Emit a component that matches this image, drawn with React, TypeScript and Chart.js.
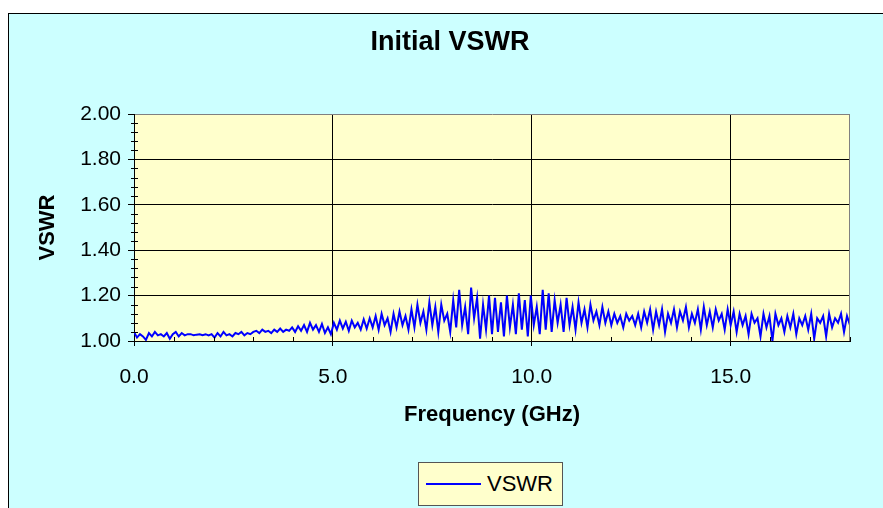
import React, { useEffect, useRef } from "react";
import { Chart, registerables } from "chart.js";

Chart.register(...registerables);

const TITLE = "Initial VSWR";
const X_TITLE = "Frequency (GHz)";
const Y_TITLE = "VSWR";
const SERIES_NAME = "VSWR";

const FREQ_START_GHZ = 0;
const FREQ_STEP_GHZ = 0.075;

const X_MIN = 0;
const X_MAX = 18;
const X_MAJOR = 5;
const X_MINOR = 1;
const Y_MIN = 1;
const Y_MAX = 2;
const Y_MAJOR = 0.2;
const Y_MINOR = 0.04;

// VSWR readings, 0.075 GHz apart
const VSWR_00_03 = [
  1.04, 1.015, 1.03, 1.02, 1.005, 1.035, 1.02, 1.04, 1.025, 1.03,
  1.02, 1.035, 1.01, 1.03, 1.04, 1.02, 1.035, 1.025, 1.03, 1.03,
  1.025, 1.028, 1.03, 1.026, 1.03, 1.025, 1.03, 1.015, 1.035, 1.02,
  1.04, 1.025, 1.03, 1.02, 1.035, 1.03, 1.04, 1.025, 1.035, 1.03,
];
const VSWR_03_06 = [
  1.04, 1.045, 1.035, 1.05, 1.04, 1.045, 1.035, 1.05, 1.04, 1.055,
  1.04, 1.05, 1.045, 1.06, 1.04, 1.065, 1.045, 1.07, 1.04, 1.08,
  1.05, 1.07, 1.04, 1.075, 1.035, 1.06, 1.03, 1.08, 1.05, 1.09,
  1.055, 1.085, 1.045, 1.09, 1.06, 1.08, 1.05, 1.095, 1.055, 1.1,
];
const VSWR_06_09 = [
  1.06, 1.11, 1.05, 1.12, 1.07, 1.1, 1.04, 1.12, 1.06, 1.13,
  1.07, 1.11, 1.05, 1.14, 1.06, 1.16, 1.08, 1.13, 1.05, 1.17,
  1.07, 1.15, 1.04, 1.16, 1.09, 1.12, 1.04, 1.18, 1.06, 1.225,
  1.07, 1.15, 1.03, 1.235, 1.1, 1.19, 1.01, 1.16, 1.05, 1.2,
];
const VSWR_09_12 = [
  1.03, 1.19, 1.04, 1.17, 1.02, 1.2, 1.06, 1.16, 1.03, 1.21,
  1.05, 1.18, 1.02, 1.2, 1.07, 1.15, 1.03, 1.225, 1.05, 1.21,
  1.04, 1.18, 1.08, 1.16, 1.04, 1.19, 1.07, 1.15, 1.05, 1.17,
  1.08, 1.14, 1.06, 1.16, 1.09, 1.13, 1.07, 1.15, 1.08, 1.13,
];
const VSWR_12_15 = [
  1.07, 1.12, 1.08, 1.11, 1.06, 1.12, 1.09, 1.11, 1.07, 1.12,
  1.06, 1.13, 1.08, 1.14, 1.05, 1.13, 1.07, 1.14, 1.04, 1.12,
  1.08, 1.14, 1.06, 1.13, 1.09, 1.15, 1.06, 1.12, 1.08, 1.14,
  1.05, 1.15, 1.07, 1.13, 1.06, 1.14, 1.09, 1.12, 1.05, 1.14,
];
const VSWR_15_18 = [
  1.07, 1.13, 1.04, 1.12, 1.07, 1.11, 1.03, 1.12, 1.08, 1.1,
  1.02, 1.12, 1.06, 1.11, 1.0, 1.12, 1.07, 1.1, 1.04, 1.11,
  1.06, 1.12, 1.03, 1.1, 1.07, 1.11, 1.05, 1.12, 1.01, 1.1,
  1.08, 1.11, 1.02, 1.12, 1.06, 1.1, 1.08, 1.12, 1.04, 1.11,
  1.07,
];

const VSWR = [...VSWR_00_03, ...VSWR_03_06, ...VSWR_06_09, ...VSWR_09_12, ...VSWR_12_15, ...VSWR_15_18];
const FREQ = VSWR.map((_, i) => FREQ_START_GHZ + i * FREQ_STEP_GHZ);

const FONT = "'Liberation Sans', Arial, sans-serif";
const BG = "#CCFFFF";
const PLOT_BG = "#FFFFCC";
const LINE = "#0000FF";

const isMultiple = (v: number, step: number, base = 0) => {
  const r = (v - base) / step;
  return Math.abs(r - Math.round(r)) < 1e-6;
};

const plotDecor = {
  id: "plotDecor",
  beforeDraw(chart: any) {
    const { ctx, chartArea: a } = chart;
    ctx.save();
    ctx.fillStyle = PLOT_BG;
    ctx.fillRect(a.left, a.top, a.right - a.left, a.bottom - a.top);
    ctx.restore();
  },
  afterDraw(chart: any) {
    const { ctx, chartArea: a, scales } = chart;
    ctx.save();
    ctx.strokeStyle = "#000";
    ctx.lineWidth = 1;
    ctx.beginPath();
    for (const t of scales.x.ticks) {
      if (isMultiple(t.value, X_MAJOR)) continue;
      const px = Math.round(scales.x.getPixelForValue(t.value)) + 0.5;
      ctx.moveTo(px, a.bottom - 4);
      ctx.lineTo(px, a.bottom);
    }
    for (const t of scales.y.ticks) {
      if (isMultiple(t.value, Y_MAJOR, Y_MIN)) continue;
      const py = Math.round(scales.y.getPixelForValue(t.value)) + 0.5;
      ctx.moveTo(a.left - 3, py);
      ctx.lineTo(a.left + 4, py);
    }
    ctx.stroke();
    // gray right edge of plot
    ctx.strokeStyle = "#808080";
    ctx.beginPath();
    ctx.moveTo(Math.round(a.right) - 0.5, a.top);
    ctx.lineTo(Math.round(a.right) - 0.5, a.bottom);
    ctx.stroke();
    ctx.restore();
  },
};

export default function App() {
  const ref = useRef<HTMLCanvasElement | null>(null);

  useEffect(() => {
    if (!ref.current) return;
    const chart = new Chart(ref.current, {
      type: "line",
      data: {
        datasets: [
          {
            label: SERIES_NAME,
            data: FREQ.map((f, i) => ({ x: f, y: VSWR[i] })),
            borderColor: LINE,
            borderWidth: 2,
            pointRadius: 0,
            tension: 0,
            fill: false,
            yAxisID: "y",
          },
        ],
      },
      options: {
        animation: false,
        responsive: false,
        devicePixelRatio: 1,
        layout: { padding: { left: 0, right: 0, top: 0, bottom: 80 } },
        plugins: {
          legend: { display: false },
          tooltip: { enabled: false },
          title: {
            display: true,
            text: TITLE,
            color: "#000",
            font: { family: FONT, size: 27, weight: "bold", lineHeight: 1.2 },
            padding: { top: 13, bottom: 55.6 },
          },
        },
        scales: {
          x: {
            type: "linear",
            min: X_MIN,
            max: X_MAX,
            ticks: {
              stepSize: X_MINOR,
              maxTicksLimit: 100,
              autoSkip: false,
              maxRotation: 0,
              padding: 19,
              color: "#000",
              font: { family: FONT, size: 21, lineHeight: 1.2 },
              callback: (v: any) => (isMultiple(Number(v), X_MAJOR) ? Number(v).toFixed(1) : ""),
            },
            grid: {
              lineWidth: 1,
              color: (c: any) => {
                const v = c.tick ? c.tick.value : 0;
                if (!isMultiple(v, X_MAJOR)) return "rgba(0,0,0,0)";
                return "#000";
              },
              drawTicks: true,
              tickLength: 5,
              tickColor: (c: any) => {
                const v = c.tick ? c.tick.value : 0;
                return isMultiple(v, X_MAJOR) ? "#000" : "rgba(0,0,0,0)";
              },
            },
            border: { display: true, color: "#000", width: 1 },
            title: {
              display: true,
              text: X_TITLE,
              color: "#000",
              font: { family: FONT, size: 22, weight: "bold", lineHeight: 1.2 },
              padding: { top: 0, bottom: 0 },
            },
            afterFit: (s: any) => {
              s.height = 87;
            },
          },
          y: {
            type: "linear",
            position: "left",
            min: Y_MIN,
            max: Y_MAX,
            ticks: {
              stepSize: Y_MINOR,
              maxTicksLimit: 100,
              autoSkip: false,
              padding: 7,
              color: "#000",
              font: { family: FONT, size: 21, lineHeight: 1.2 },
              callback: (v: any) => (isMultiple(Number(v), Y_MAJOR, Y_MIN) ? Number(v).toFixed(2) : ""),
            },
            grid: {
              lineWidth: 1,
              color: (c: any) => {
                const v = c.tick ? c.tick.value : 0;
                if (!isMultiple(v, Y_MAJOR, Y_MIN)) return "rgba(0,0,0,0)";
                if (Math.abs(v - Y_MAX) < 1e-6) return "#808080";
                return "#000";
              },
              drawTicks: true,
              tickLength: 6,
              tickColor: (c: any) => {
                const v = c.tick ? c.tick.value : 0;
                return isMultiple(v, Y_MAJOR, Y_MIN) ? "#000" : "rgba(0,0,0,0)";
              },
            },
            border: { display: true, color: "#000", width: 1 },
            title: {
              display: true,
              text: Y_TITLE,
              color: "#000",
              font: { family: FONT, size: 22, weight: "bold", lineHeight: 1.2 },
              padding: { top: 27, bottom: 0 },
            },
            afterFit: (s: any) => {
              s.width = 126;
            },
          },
          spacer: {
            type: "linear",
            position: "right",
            display: true,
            grid: { display: false, drawTicks: false },
            ticks: { display: false },
            border: { display: false },
            afterFit: (s: any) => {
              s.width = 42;
            },
          },
        },
      } as any,
      plugins: [plotDecor],
    });
    return () => chart.destroy();
  }, []);

  return (
    <div
      style={{
        position: "fixed",
        left: 0,
        top: 0,
        width: 883,
        height: 508,
        overflow: "hidden",
        background: "#fff",
      }}
    >
      <div
        style={{
          position: "absolute",
          left: 8,
          top: 13,
          width: 900,
          height: 520,
          boxSizing: "border-box",
          background: BG,
          borderLeft: "1px solid #000",
          borderTop: "1px solid #000",
        }}
      />
      <canvas
        ref={ref}
        width={884}
        height={495}
        style={{ position: "absolute", left: 8, top: 13, width: 884, height: 495 }}
      />
      <div
        style={{
          position: "absolute",
          left: 418,
          top: 462,
          width: 145,
          height: 44,
          boxSizing: "border-box",
          border: "1px solid #555",
          background: PLOT_BG,
          fontFamily: FONT,
        }}
      >
        <div
          style={{ position: "absolute", left: 7, top: 20, width: 55, height: 2, background: LINE }}
        />
        <span
          style={{
            position: "absolute",
            left: 68,
            top: 0,
            lineHeight: "42px",
            fontSize: 22,
            color: "#000",
            whiteSpace: "nowrap",
          }}
        >
          {SERIES_NAME}
        </span>
      </div>
    </div>
  );
}
